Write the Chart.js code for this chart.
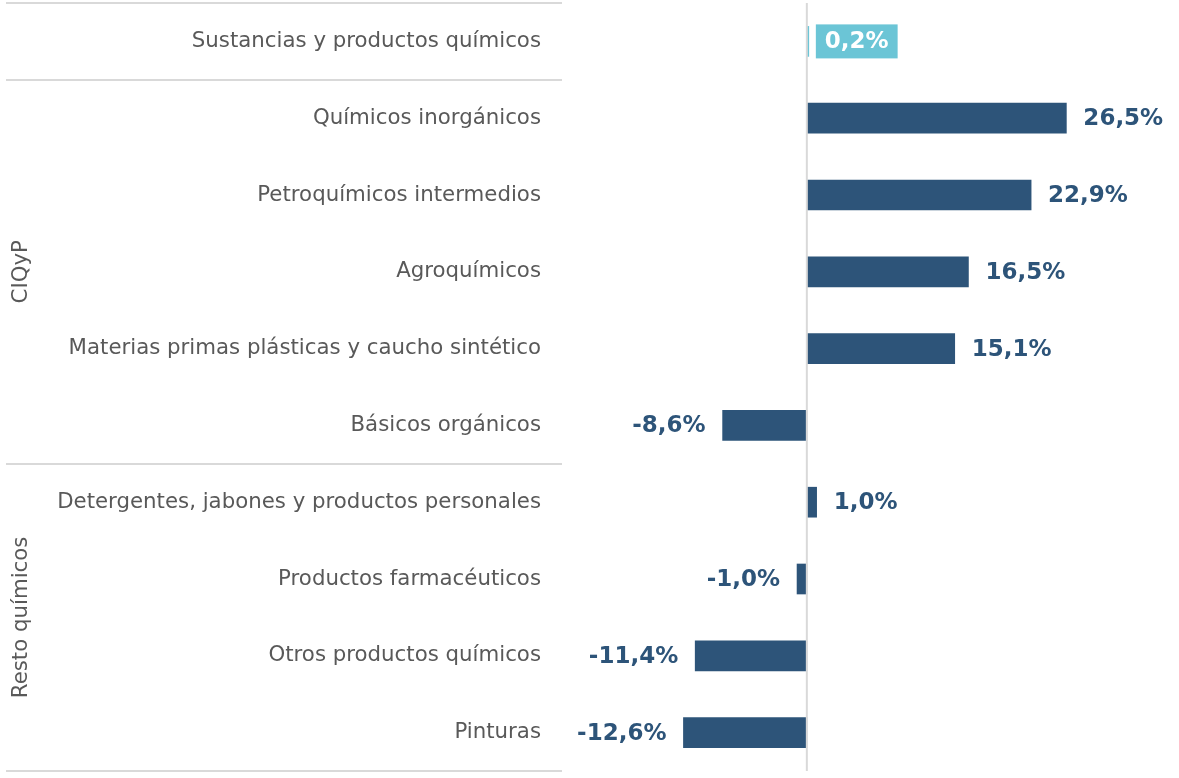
<!DOCTYPE html>
<html>
<head>
<meta charset="utf-8">
<script src="https://cdn.jsdelivr.net/npm/chart.js@4.4.0/dist/chart.umd.min.js"></script>
<style>
  html, body { margin: 0; padding: 0; background: #ffffff; }
  #wrap { width: 1179px; height: 778px; position: relative; }
</style>
</head>
<body>
<div id="wrap"><canvas id="c"></canvas></div>
<script>
const categories = [
  "Sustancias y productos químicos",
  "Químicos inorgánicos",
  "Petroquímicos intermedios",
  "Agroquímicos",
  "Materias primas plásticas y caucho sintético",
  "Básicos orgánicos",
  "Detergentes, jabones y productos personales",
  "Productos farmacéuticos",
  "Otros productos químicos",
  "Pinturas"
];
const values = [0.2, 26.5, 22.9, 16.5, 15.1, -8.6, 1.0, -1.0, -11.4, -12.6];
const groupNames = ["CIQyP", "Resto químicos"];
const groupRanges = [[1, 5], [6, 9]]; // category index ranges
const separators = [0, 1, 6, 10]; // boundaries (before index)

const DARK = "#2d5479";
const LIGHT = "#6bc5d6";
const GRAY = "#595959";
const LINE = "#d9d9d9";
const FONT = "'DejaVu Sans', Verdana, sans-serif";

const fmt = v => v.toFixed(1).replace('.', ',') + '%';

const decor = {
  id: 'decor',
  afterDatasetsDraw(chart) {
    const ctx = chart.ctx;
    const x = chart.scales.x, y = chart.scales.y;
    const step = y.getPixelForValue(1) - y.getPixelForValue(0);
    const bound = i => y.getPixelForValue(i) - step / 2;
    ctx.save();
    // separators
    ctx.strokeStyle = LINE; ctx.lineWidth = 2;
    separators.forEach(i => {
      const py = Math.round(bound(i));
      ctx.beginPath(); ctx.moveTo(6, py); ctx.lineTo(x.left, py); ctx.stroke();
    });
    // zero line
    const zx = x.getPixelForValue(0);
    ctx.beginPath(); ctx.moveTo(zx, bound(0)); ctx.lineTo(zx, bound(10)); ctx.stroke();
    // group labels
    ctx.fillStyle = GRAY;
    ctx.font = "21.3px " + FONT;
    ctx.textAlign = 'center'; ctx.textBaseline = 'middle';
    groupNames.forEach((g, k) => {
      const [a, b] = groupRanges[k];
      const cy = (bound(a) + bound(b + 1)) / 2;
      ctx.save();
      ctx.translate(21, cy); ctx.rotate(-Math.PI / 2);
      ctx.fillText(g, 0, 0);
      ctx.restore();
    });
    // value labels
    const meta = chart.getDatasetMeta(0);
    ctx.font = "bold 23px " + FONT;
    meta.data.forEach((bar, i) => {
      const v = values[i];
      const py = bar.y;
      const txt = fmt(v);
      if (i === 0) {
        const w = ctx.measureText(txt).width;
        const bx = x.getPixelForValue(0) + 9;
        ctx.fillStyle = LIGHT;
        ctx.fillRect(bx, py - 17, w + 18, 34);
        ctx.fillStyle = '#ffffff';
        ctx.textAlign = 'left';
        ctx.fillText(txt, bx + 9, py + 1);
        return;
      }
      ctx.fillStyle = DARK;
      if (v >= 0) {
        ctx.textAlign = 'left';
        ctx.fillText(txt, bar.x + 17, py + 1);
      } else {
        ctx.textAlign = 'right';
        ctx.fillText(txt, bar.x - 17, py + 1);
      }
    });
    ctx.restore();
  }
};

new Chart(document.getElementById('c'), {
  type: 'bar',
  data: {
    labels: categories,
    datasets: [{
      data: values,
      backgroundColor: values.map((v, i) => i === 0 ? LIGHT : DARK),
      barThickness: 30,
      borderWidth: 0
    }]
  },
  options: {
    indexAxis: 'y',
    responsive: true,
    maintainAspectRatio: false,
    animation: false,
    layout: { padding: { top: 3, bottom: 7, left: 0, right: 0 } },
    plugins: { legend: { display: false }, tooltip: { enabled: false } },
    scales: {
      x: {
        min: -25, max: 38,
        display: false,
        grid: { display: false }
      },
      y: {
        grid: { display: false, drawTicks: false },
        border: { display: false },
        afterFit: s => { s.width = 562; s.paddingTop = 0; s.paddingBottom = 0; },
        ticks: {
          padding: 21,
          color: GRAY,
          font: { family: FONT, size: 21.3, lineHeight: 1.3 }
        }
      }
    }
  },
  plugins: [decor]
});
</script>
</body>
</html>
